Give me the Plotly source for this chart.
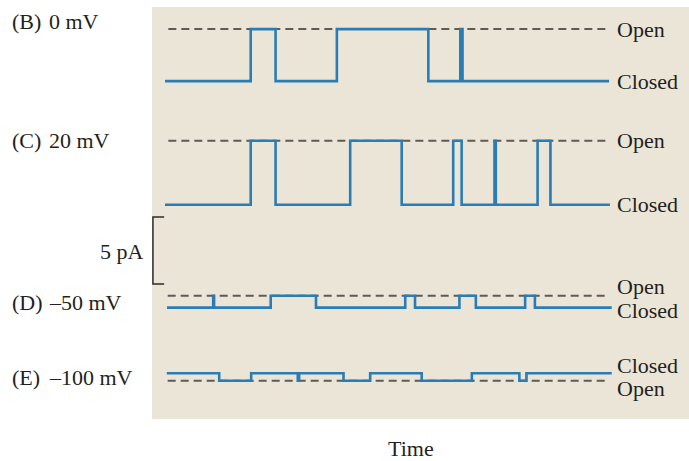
import plotly.graph_objects as go

# ---- data (time in arbitrary units, current in pA, traces offset for display) ----
trace_names = ["B", "C", "D", "E"]
voltages = ["0 mV", "20 mV", "\u201350 mV", "\u2013100 mV"]
closed_level = [25.22, 15.99, 8.31, 3.41]
open_level = [29.10, 20.77, 9.20, 2.86]
t_start = [0.0, 0.0, 0.45, 0.4]
t_end = [100.0, 100.2, 100.6, 100.6]
open_B = [(19.3, 24.9), (38.7, 59.3), (66.5, 67.0)]
open_C = [(19.3, 24.9), (41.7, 53.3), (64.9, 66.8), (74.2, 74.5), (83.9, 86.8)]
open_D = [(10.85, 11.05), (23.8, 34.0), (54.1, 56.3), (66.3, 70.0), (81.1, 83.3)]
open_E = [(12.2, 19.4), (29.9, 30.2), (40.2, 46.2), (57.8, 69.1), (79.8, 81.4)]
open_intervals = [open_B, open_C, open_D, open_E]
dash_start = [0.75, 0.75, 0.6, 0.6]
dash_end = [99.5, 99.5, 99.5, 99.5]
scale_pA = 5.0
scale_base = 10.07

BLUE = "#2a7db4"
FONT = dict(family="Liberation Serif", size=22, color="#231f20")

fig = go.Figure()

for i in range(4):
    xs = [t_start[i]]
    ys = [closed_level[i]]
    for (a, b) in open_intervals[i]:
        xs += [a, b]
        ys += [open_level[i], closed_level[i]]
    xs.append(t_end[i])
    ys.append(closed_level[i])
    # dashed open reference line
    fig.add_trace(go.Scatter(x=[dash_start[i], dash_end[i]], y=[open_level[i], open_level[i]],
                             mode="lines", line=dict(color="#5e5b57", width=2, dash="8px,5px"),
                             hoverinfo="skip", showlegend=False))
    fig.add_trace(go.Scatter(x=xs, y=ys, mode="lines", line_shape="hv",
                             line=dict(color=BLUE, width=2.6), showlegend=False,
                             name=trace_names[i]))

# scale bar (5 pA)
fig.add_trace(go.Scatter(x=[-0.2, -2.72, -2.72, -0.2],
                         y=[scale_base + scale_pA, scale_base + scale_pA, scale_base, scale_base],
                         mode="lines", line=dict(color="#2b2b2b", width=1.5),
                         showlegend=False, hoverinfo="skip"))

ann = []
# left labels
left_y = [29.7, 20.8, 8.73, 3.13]
for i in range(4):
    ann.append(dict(x=(10 - 152) / 537, xref="paper", y=left_y[i], yref="y",
                    text="(%s)" % trace_names[i], showarrow=False, xanchor="left",
                    yanchor="middle", font=FONT))
    ann.append(dict(x=(47 - 152) / 537, xref="paper", y=left_y[i], yref="y",
                    text=voltages[i], showarrow=False, xanchor="left",
                    yanchor="middle", font=FONT))
ann.append(dict(x=(146 - 152) / 537, xref="paper", y=12.5, yref="y", text="5 pA",
                showarrow=False, xanchor="right", yanchor="middle", font=FONT))
# right labels
right = [("Open", 29.1), ("Closed", 25.2), ("Open", 20.8), ("Closed", 16.0),
         ("Open", 9.87), ("Closed", 8.13), ("Closed", 4.03), ("Open", 2.29)]
for txt, yv in right:
    ann.append(dict(x=(615 - 152) / 537, xref="paper", y=yv, yref="y", text=txt,
                    showarrow=False, xanchor="left", yanchor="middle", font=FONT))
ann.append(dict(x=(411 - 152) / 537, xref="paper", y=(419 - 448) / 412, yref="paper",
                text="Time", showarrow=False, xanchor="center", yanchor="middle",
                borderpad=0, font=FONT))

fig.update_layout(
    width=689, height=461,
    margin=dict(l=152, r=0, t=7, b=42),
    paper_bgcolor="white", plot_bgcolor="#ebe5d7",
    xaxis=dict(range=[-2.93, 118.0], visible=False, fixedrange=True),
    yaxis=dict(range=[0, 30.75], visible=False, fixedrange=True),
    annotations=ann,
    showlegend=False,
)

fig.write_html("out.html", config={"displayModeBar": False})
